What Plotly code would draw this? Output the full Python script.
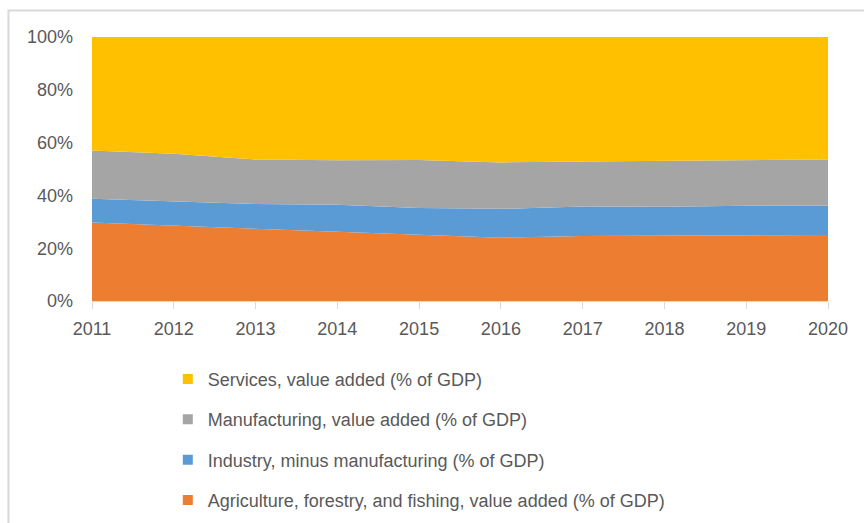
import plotly.graph_objects as go

years = [2011, 2012, 2013, 2014, 2015, 2016, 2017, 2018, 2019, 2020]
agriculture = [29.7, 28.5, 27.2, 26.2, 25.1, 24.0, 24.6, 24.7, 24.8, 25.0]
industry = [9.0, 9.2, 9.5, 10.3, 10.1, 10.9, 11.2, 11.0, 11.3, 11.2]
manufacturing = [18.3, 18.1, 16.9, 16.8, 18.2, 17.6, 17.0, 17.3, 17.2, 17.4]
services = [43.0, 44.2, 46.4, 46.7, 46.6, 47.5, 47.2, 47.0, 46.7, 46.4]

series = [
    ("Agriculture, forestry, and fishing, value added (% of GDP)", agriculture, "#ED7D31"),
    ("Industry, minus manufacturing (% of GDP)", industry, "#5B9BD5"),
    ("Manufacturing, value added (% of GDP)", manufacturing, "#A5A5A5"),
    ("Services, value added (% of GDP)", services, "#FFC000"),
]

FONT = "Liberation Sans"
TXT = "#595959"
FS = 18

fig = go.Figure()
for name, vals, col in series:
    fig.add_trace(go.Scatter(
        x=years, y=vals, name=name, mode="lines", stackgroup="one",
        groupnorm="percent", line=dict(width=0, color=col), fillcolor=col,
        showlegend=False,
    ))
n = len(series)
for i, (name, vals, col) in enumerate(series):
    fig.add_trace(go.Scatter(
        x=[None], y=[None], name=name, mode="markers",
        marker=dict(symbol="square", size=10, color=col),
        legendgroup=f"g{i}", legendrank=n - i, showlegend=True,
    ))

fig.update_layout(
    width=864, height=523,
    margin=dict(l=92, r=36, t=37, b=222),
    paper_bgcolor="white", plot_bgcolor="white",
    font=dict(family=FONT, size=FS, color=TXT),
    showlegend=True,
    legend=dict(
        x=0.103, y=0.3103, xanchor="left", yanchor="top", yref="container",
        traceorder="grouped", tracegroupgap=14,
        font=dict(family=FONT, size=FS, color=TXT),
        itemwidth=30, bgcolor="rgba(0,0,0,0)",
    ),
    xaxis=dict(
        range=[2011, 2020], tickmode="array", tickvals=years,
        ticktext=[str(y) for y in years],
        showgrid=False, zeroline=False, showline=True, linecolor="#D9D9D9",
        linewidth=1, ticks="outside", tickcolor="#D9D9D9", ticklen=7,
        ticklabelstandoff=4,
        tickfont=dict(family=FONT, size=FS, color=TXT),
    ),
    yaxis=dict(
        range=[0, 100], tickvals=[0, 20, 40, 60, 80, 100],
        ticktext=["0%", "20%", "40%", "60%", "80%", "100%"],
        showgrid=False, zeroline=False, showline=False,
        ticklabelstandoff=18,
        tickfont=dict(family=FONT, size=FS, color=TXT),
    ),
)

fig.add_shape(type="rect", xref="paper", yref="paper",
              x0=-0.1135, x1=1.07, y0=-0.95, y1=1.1,
              line=dict(color="#D9D9D9", width=2), fillcolor="rgba(0,0,0,0)",
              layer="below")

fig.write_html("out.html")
